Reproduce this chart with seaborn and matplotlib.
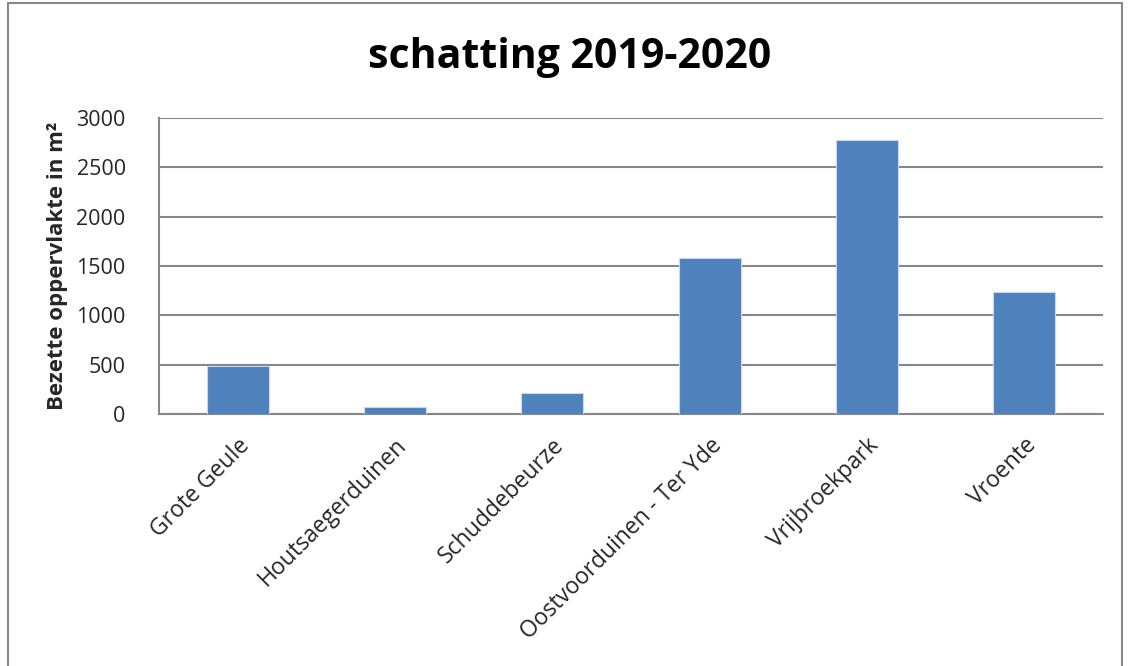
import matplotlib
matplotlib.use("Agg")
import matplotlib.pyplot as plt
import seaborn as sns
import pandas as pd
from matplotlib.patches import Rectangle

# Estimated occupied area per site, 2019-2020
sites = ["Grote Geule", "Houtsaegerduinen", "Schuddebeurze",
         "Oostvoorduinen - Ter Yde", "Vrijbroekpark", "Vroente"]
area_m2 = [490, 71, 210, 1583, 2772, 1234]
y_ticks = [0, 500, 1000, 1500, 2000, 2500, 3000]

title = "schatting 2019-2020"
y_label = "Bezette oppervlakte in m²"

df = pd.DataFrame({"site": sites, "area": area_m2})

sns.set_theme(style="white")
plt.rcParams["font.family"] = ["Open Sans", "DejaVu Sans"]

fig = plt.figure(figsize=(11.29, 6.66), dpi=100)
W, H = 1129, 666
ax = fig.add_axes([159 / W, 1 - 414 / H, (1103 - 159) / W, (414 - 118) / H])

sns.barplot(data=df, x="site", y="area", ax=ax, color="#4F81BD",
            saturation=1, width=0.395, edgecolor="#c9d8ee", linewidth=0.8,
            zorder=3)

ax.set_ylim(0, 3000)
ax.set_yticks(y_ticks)
ax.set_yticklabels([str(t) for t in y_ticks], fontsize=15.5)
ax.yaxis.grid(True, color="#878787", linewidth=1.5, zorder=0)
ax.set_axisbelow(True)
ax.tick_params(axis="y", length=0, pad=24)

ax.set_xlabel("")
ax.set_ylabel(y_label, fontsize=16, fontweight="bold", labelpad=6)
ax.set_xticks(range(len(sites)))
ax.set_xticklabels(sites, rotation=45, ha="right", rotation_mode="anchor",
                   fontsize=16.5)
ax.tick_params(axis="x", length=0, pad=14)

for side in ["top", "right"]:
    ax.spines[side].set_visible(False)
for side in ["left", "bottom"]:
    ax.spines[side].set_color("#878787")
    ax.spines[side].set_linewidth(1.5)

fig.text(570 / W, 1 - 57 / H, title, ha="center", va="center",
         fontsize=29.5, fontweight="bold", color="black")

# Chart frame
fig.patches.append(Rectangle((8 / W, -0.05), (1122 - 8) / W, 1.05 - 3 / H,
                             transform=fig.transFigure, fill=False,
                             edgecolor="#878787", linewidth=1.5))

fig.savefig("out.png", dpi=100, facecolor="white")
